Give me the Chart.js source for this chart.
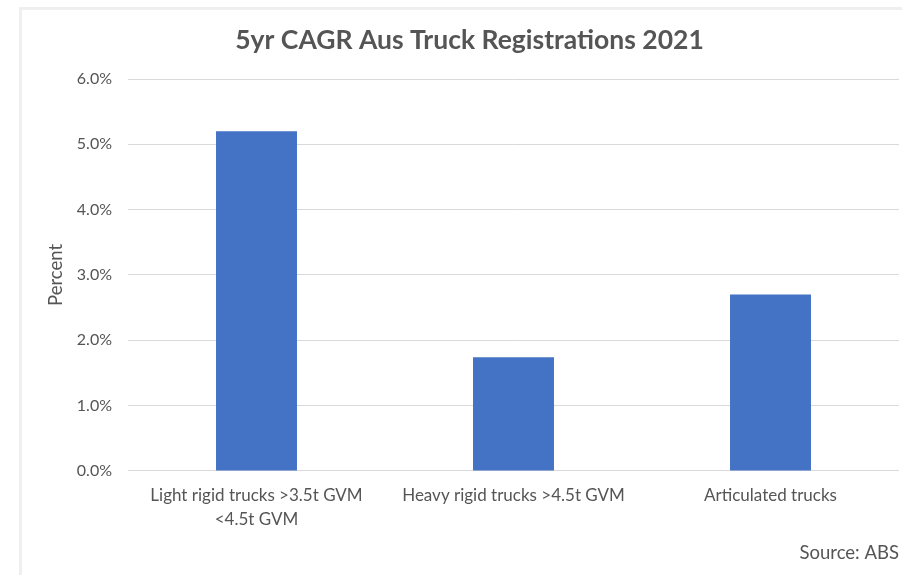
<!DOCTYPE html>
<html>
<head>
<meta charset="utf-8">
<script src="https://cdn.jsdelivr.net/npm/chart.js@4.4.1/dist/chart.umd.min.js"></script>
<style>
  html, body { margin: 0; padding: 0; background: #ffffff; overflow: hidden; }
  #wrap { position: relative; width: 902px; height: 575px; }
  #frame { position: absolute; left: 19px; top: 7px; right: -10px; bottom: -10px;
           border-left: 3px solid #efefef; border-top: 3px solid #efefef; }
  canvas { position: absolute; left: 0; top: 0; }
</style>
</head>
<body>
<div id="wrap">
  <div id="frame"></div>
  <canvas id="c" width="902" height="575"></canvas>
</div>
<script>
const chartTitle = '5yr CAGR Aus Truck Registrations 2021';
const categories = [
  ['Light rigid trucks >3.5t GVM', '<4.5t GVM'],
  'Heavy rigid trucks >4.5t GVM',
  'Articulated trucks'
];
const cagrPercent = [5.2, 1.74, 2.7];
const yTickLabels = ['0.0%', '1.0%', '2.0%', '3.0%', '4.0%', '5.0%', '6.0%'];
const yAxisTitle = 'Percent';
const sourceNote = 'Source: ABS';

const FONT = 'Lato, "Open Sans", sans-serif';
const GREY = '#555555';

new Chart(document.getElementById('c'), {
  type: 'bar',
  data: {
    labels: categories,
    datasets: [{
      data: cagrPercent,
      backgroundColor: '#4472C4',
      borderWidth: 0,
      categoryPercentage: 1,
      barPercentage: 0.315
    }]
  },
  options: {
    responsive: false,
    animation: false,
    devicePixelRatio: 1,
    layout: { padding: { left: 40, right: 3, top: 7, bottom: 0 } },
    plugins: {
      legend: { display: false },
      tooltip: { enabled: false },
      title: {
        display: true,
        text: chartTitle,
        color: GREY,
        font: { family: FONT, size: 26.5, weight: 'bold', lineHeight: 1.2 },
        padding: { top: 17.1, bottom: 23.1 }
      },
      subtitle: {
        display: true,
        text: sourceNote,
        position: 'bottom',
        align: 'end',
        color: GREY,
        font: { family: FONT, size: 18.5, lineHeight: 1.2 },
        padding: { top: 5.9, bottom: 11 }
      }
    },
    scales: {
      x: {
        grid: { display: false, drawTicks: false },
        border: { display: false },
        ticks: {
          color: GREY,
          font: { family: FONT, size: 17, lineHeight: 1.4 },
          padding: 13,
          maxRotation: 0,
          autoSkip: false
        },
        afterFit: (s) => { s.height = 65; }
      },
      y: {
        min: 0,
        max: 6,
        grid: { color: '#d9d9d9', lineWidth: 1, drawTicks: false },
        border: { display: false },
        ticks: {
          stepSize: 1,
          color: GREY,
          font: { family: FONT, size: 16 },
          padding: 16,
          callback: (v, i) => yTickLabels[i]
        },
        title: {
          display: true,
          text: yAxisTitle,
          color: GREY,
          font: { family: FONT, size: 18.5, lineHeight: 1.2 },
          padding: { top: 5, bottom: 0 }
        },
        afterFit: (s) => { s.width = 88; }
      }
    }
  }
});
</script>
</body>
</html>
